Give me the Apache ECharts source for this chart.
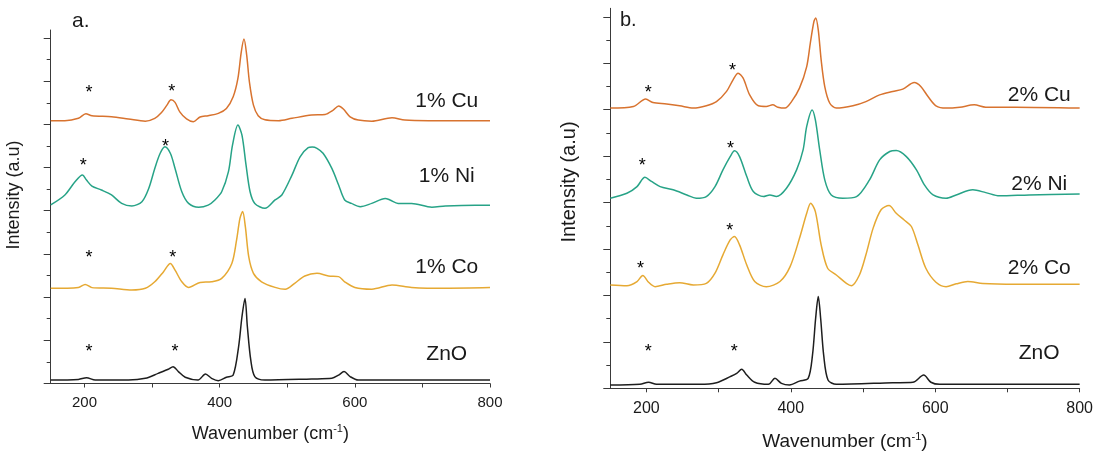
<!DOCTYPE html>
<html>
<head>
<meta charset="utf-8">
<title>Raman spectra</title>
<script src="https://cdn.jsdelivr.net/npm/echarts@6/dist/echarts.min.js"></script>
<style>
html,body{margin:0;padding:0;background:#fff;}
#chart{width:1096px;height:462px;}
</style>
</head>
<body>
<div id="chart"></div>
<script>
// axes
var xTicks = [200, 300, 400, 500, 600, 700, 800];
var xLabels = [200, 400, 600, 800];
var yMajor = [0, 2, 4, 6, 8, 10, 12, 14, 16];
var yMinor = [1, 3, 5, 7, 9, 11, 13, 15];

// panel a (1%) - [wavenumber, intensity + offset]
var cuA = [[150,12.17],[171,12.17],[191,12.28],[202,12.49],[211,12.40],[240,12.35],[265,12.25],[290,12.15],[304,12.28],[314,12.55],[322,12.89],[328,13.14],[334,13.02],[341,12.58],[351,12.25],[361,12.12],[371,12.34],[383,12.40],[398,12.51],[410,12.74],[420,13.28],[427,14.13],[432,15.36],[436,15.95],[440,15.21],[444,13.97],[450,12.89],[457,12.40],[467,12.21],[487,12.17],[507,12.28],[536,12.43],[556,12.46],[568,12.66],[576,12.85],[583,12.71],[593,12.35],[605,12.20],[625,12.15],[655,12.31],[674,12.20],[709,12.17],[778,12.17],[800,12.17]];
var niA = [[150,8.27],[171,8.73],[186,9.34],[197,9.65],[203,9.42],[211,9.14],[225,8.96],[240,8.73],[255,8.34],[270,8.22],[285,8.42],[295,9.03],[304,9.96],[312,10.66],[319,10.96],[327,10.66],[334,9.96],[344,8.88],[354,8.34],[369,8.16],[383,8.26],[393,8.50],[403,8.88],[413,9.81],[419,11.04],[427,11.97],[433,11.50],[439,10.12],[445,8.88],[452,8.34],[467,8.11],[482,8.50],[492,8.73],[507,9.65],[519,10.50],[531,10.92],[537,10.95],[544,10.89],[553,10.66],[566,9.96],[576,9.19],[585,8.50],[595,8.34],[608,8.19],[625,8.34],[645,8.57],[652,8.50],[664,8.34],[684,8.34],[714,8.16],[734,8.22],[778,8.26],[800,8.25]];
var coA = [[150,4.41],[191,4.45],[201,4.59],[211,4.44],[240,4.41],[270,4.33],[290,4.41],[304,4.71],[317,5.18],[327,5.56],[334,5.25],[344,4.71],[354,4.45],[371,4.68],[388,4.71],[403,4.87],[418,5.56],[425,6.64],[430,7.65],[434,7.96],[438,7.26],[443,5.87],[450,5.10],[462,4.71],[482,4.45],[497,4.36],[511,4.64],[526,4.98],[544,5.10],[561,4.98],[576,4.95],[585,4.71],[600,4.45],[625,4.37],[655,4.56],[684,4.45],[734,4.41],[800,4.44]];
var znoA = [[150,0.16],[191,0.19],[203,0.27],[216,0.16],[265,0.16],[290,0.24],[309,0.47],[324,0.66],[331,0.78],[339,0.55],[349,0.29],[368,0.16],[379,0.44],[388,0.24],[398,0.13],[410,0.29],[420,0.39],[428,1.70],[433,3.09],[437.5,3.94],[441,2.63],[446,1.09],[452,0.32],[467,0.16],[536,0.21],[566,0.24],[576,0.39],[584,0.55],[593,0.32],[605,0.16],[800,0.16]];

// panel b (2%)
var cuB = [[150,12.07],[182,12.14],[199,12.46],[209,12.31],[228,12.25],[246,12.17],[265,12.07],[283,12.17],[297,12.35],[311,12.79],[320,13.29],[327,13.57],[334,13.36],[343,12.64],[355,12.17],[366,12.14],[375,12.21],[382,12.11],[392,12.07],[401,12.35],[412,12.93],[422,13.86],[427,14.87],[432,15.80],[434.5,15.95],[438,15.44],[442,14.15],[447,13.00],[454,12.28],[463,12.07],[486,12.17],[504,12.35],[523,12.64],[541,12.79],[555,12.89],[571,13.17],[580,13.00],[590,12.57],[601,12.17],[615,12.07],[634,12.11],[654,12.21],[670,12.11],[712,12.11],[800,12.07]];
var niB = [[150,8.19],[173,8.40],[187,8.69],[198,9.09],[207,8.91],[219,8.69],[237,8.55],[256,8.33],[269,8.19],[283,8.26],[295,8.69],[306,9.41],[316,9.98],[322,10.23],[329,9.98],[339,9.12],[348,8.48],[362,8.26],[371,8.33],[380,8.26],[394,8.62],[408,9.41],[417,10.27],[422,11.28],[429.5,11.99],[434,11.56],[440,10.27],[447,8.98],[456,8.33],[472,8.19],[491,8.26],[509,8.98],[523,9.84],[537,10.20],[546,10.24],[560,9.98],[574,9.41],[585,8.76],[597,8.33],[615,8.19],[629,8.33],[652,8.55],[670,8.43],[689,8.29],[730,8.33],[800,8.37]];
var coB = [[150,4.45],[173,4.42],[187,4.60],[195,4.86],[203,4.57],[212,4.38],[228,4.48],[246,4.55],[265,4.45],[283,4.52],[295,4.96],[306,5.75],[316,6.39],[322,6.54],[329,6.18],[339,5.31],[350,4.60],[366,4.38],[385,4.60],[399,5.24],[412,6.46],[422,7.54],[427.5,7.97],[434,7.61],[442,6.18],[451,5.17],[463,4.88],[477,4.52],[484,4.42],[495,4.88],[504,5.75],[514,6.90],[525,7.69],[536,7.87],[546,7.54],[557,7.25],[567,6.97],[576,6.18],[587,5.17],[601,4.57],[615,4.38],[629,4.50],[645,4.60],[666,4.51],[712,4.48],[800,4.48]];
var znoB = [[150,0.14],[191,0.17],[203,0.26],[214,0.17],[274,0.17],[297,0.24],[316,0.50],[325,0.64],[332,0.82],[339,0.57],[350,0.26],[369,0.17],[378,0.43],[387,0.21],[398,0.14],[412,0.31],[424,0.43],[430,1.43],[434.4,3.02],[438,3.95],[441.3,3.02],[445.5,1.43],[451.5,0.36],[463,0.17],[541,0.24],[569,0.26],[584,0.57],[594,0.26],[606,0.17],[800,0.17]];

// peak markers (*)
var starsA = [[206.7,13.67],[329,13.74],[198.3,10.30],[320,11.19],[206.7,6.03],[330.5,6.03],[206.7,1.70],[334,1.70]];
var starsB = [[202.6,12.93],[319.2,13.89],[194.3,9.77],[316.4,10.53],[192,5.36],[315.5,7.00],[202.6,1.77],[321.5,1.77]];

// trace labels
var namesA = ['1% Cu', '1% Ni', '1% Co', 'ZnO'];
var labelYA = [13.08, 9.62, 5.39, 1.37];
var namesB = ['2% Cu', '2% Ni', '2% Co', 'ZnO'];
var labelYB = [12.61, 8.78, 5.17, 1.52];

var colors = ['#d8732f', '#27a387', '#e6a933', '#1e1e1e'];
var axisColor = '#3a3a3a';
var textColor = '#1a1a1a';
var font = 'Liberation Sans, Arial, sans-serif';

function xAxis(idx, fontSize, nameSize, nameGap) {
	return {
		gridIndex: idx, type: 'value', min: 150, max: 800,
		axisLine: { lineStyle: { color: axisColor, width: 1 } },
		axisTick: { customValues: xTicks, length: 4, lineStyle: { color: axisColor } },
		axisLabel: { customValues: xLabels, fontSize: fontSize, color: textColor, margin: 12, fontFamily: font },
		splitLine: { show: false },
		name: 'Wavenumber (cm{sup|-1})', nameLocation: 'middle', nameGap: nameGap,
		nameTextStyle: { fontSize: nameSize, color: textColor, fontFamily: font,
			rich: { sup: { fontSize: Math.round(nameSize * 0.6), padding: [0, 0, 10, 0], color: textColor } } }
	};
}

// minor ticks sit on a second, line-less axis on the same side
function yAxis(idx, ticks, len, line) {
	return {
		gridIndex: idx, type: 'value', min: 0, max: 16.37, position: 'left', offset: 0,
		axisLine: { show: line, lineStyle: { color: axisColor, width: 1 } },
		axisTick: { show: true, customValues: ticks, length: len, lineStyle: { color: axisColor } },
		axisLabel: { show: false },
		splitLine: { show: false }
	};
}

function lineSeries(data, color, idx) {
	return {
		type: 'line', xAxisIndex: idx, yAxisIndex: idx * 2, data: data,
		showSymbol: false, smooth: 0.3, silent: true,
		lineStyle: { color: color, width: 1.5 }, itemStyle: { color: color }
	};
}

function starSeries(data, idx) {
	return {
		type: 'scatter', xAxisIndex: idx, yAxisIndex: idx * 2, data: data, symbolSize: 0, silent: true,
		itemStyle: { opacity: 1 },
		label: { show: true, position: 'inside', formatter: '*', fontSize: 18, color: '#000', opacity: 1, fontFamily: font, offset: [0, 5] }
	};
}

function nameSeries(names, ys, x, idx) {
	return {
		type: 'scatter', xAxisIndex: idx, yAxisIndex: idx * 2, symbolSize: 0, silent: true,
		itemStyle: { opacity: 1 },
		data: names.map(function (n, i) { return { name: n, value: [x, ys[i]] }; }),
		label: { show: true, position: 'inside', formatter: '{b}', fontSize: 21, color: textColor, opacity: 1, fontFamily: font }
	};
}

var chart = echarts.init(document.getElementById('chart'));
chart.setOption({
	animation: false,
	backgroundColor: '#fff',
	textStyle: { fontFamily: font },
	grid: [
		{ left: 50.7, top: 30, width: 439.3, height: 353.5 },
		{ left: 610.3, top: 8.3, width: 470.2, height: 380 }
	],
	xAxis: [xAxis(0, 15, 18, 40), xAxis(1, 16, 19, 43)],
	yAxis: [
		yAxis(0, yMajor, 7, true), yAxis(0, yMinor, 4, false),
		yAxis(1, yMajor, 7, true), yAxis(1, yMinor, 4, false)
	],
	graphic: [
		{ type: 'text', x: 72, y: 21, style: { text: 'a.', fontSize: 21, fontFamily: font, fill: textColor, verticalAlign: 'middle' } },
		{ type: 'text', x: 620, y: 20.5, style: { text: 'b.', fontSize: 20, fontFamily: font, fill: textColor, verticalAlign: 'middle' } },
		{ type: 'text', x: 14, y: 195, rotation: Math.PI / 2, style: { text: 'Intensity (a.u)', fontSize: 18, fontFamily: font, fill: textColor, align: 'center', verticalAlign: 'middle' } },
		{ type: 'text', x: 569, y: 182, rotation: Math.PI / 2, style: { text: 'Intensity (a.u)', fontSize: 20, fontFamily: font, fill: textColor, align: 'center', verticalAlign: 'middle' } }
	],
	series: [
		lineSeries(cuA, colors[0], 0), lineSeries(niA, colors[1], 0), lineSeries(coA, colors[2], 0), lineSeries(znoA, colors[3], 0),
		lineSeries(cuB, colors[0], 1), lineSeries(niB, colors[1], 1), lineSeries(coB, colors[2], 1), lineSeries(znoB, colors[3], 1),
		starSeries(starsA, 0), starSeries(starsB, 1),
		nameSeries(namesA, labelYA, 736, 0), nameSeries(namesB, labelYB, 744, 1)
	]
});
</script>
</body>
</html>
